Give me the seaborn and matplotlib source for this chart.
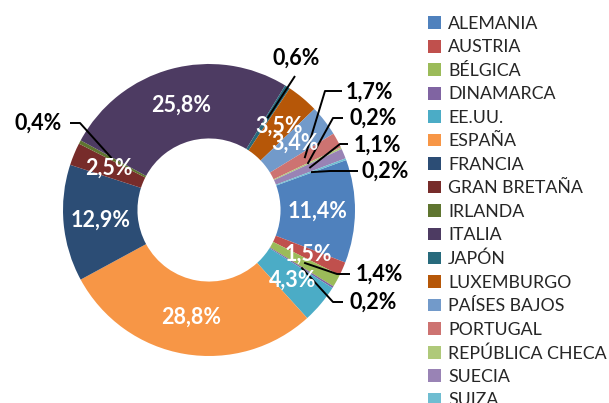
import matplotlib
matplotlib.use("Agg")
import numpy as np
import matplotlib.pyplot as plt
import seaborn as sns

# data
countries = [
    "ALEMANIA", "AUSTRIA", "BÉLGICA", "DINAMARCA", "EE.UU.", "ESPAÑA",
    "FRANCIA", "GRAN BRETAÑA", "IRLANDA", "ITALIA", "JAPÓN", "LUXEMBURGO",
    "PAÍSES BAJOS", "PORTUGAL", "REPÚBLICA CHECA", "SUECIA", "SUIZA",
]
shares = [11.4, 1.5, 1.4, 0.2, 4.3, 28.8, 12.9, 2.5, 0.4, 25.8, 0.6, 3.5,
          3.4, 1.7, 0.2, 1.1, 0.2]
colors = [
    "#4F81BD", "#C0504D", "#9BBB59", "#8064A2", "#4BACC6", "#F79646",
    "#2C4D75", "#772C2A", "#5F7530", "#4D3B62", "#276A7C", "#B65708",
    "#729ACA", "#CD7371", "#AFC97A", "#9983B5", "#6FBDD1",
]

# labels drawn outside with a leader line (index -> layout in ref pixels)
# (line start x, y), (knee x, y), text anchor (x, y), ha
outside = {
    2: ((350, 274), (337, 274), (356, 274), "left"),
    3: ((343, 302), (333, 302), (350, 302), "left"),
    8: ((70, 123), (80, 123), (62, 123), "right"),
    10: ((295, 76), (295, 76), (296, 58), "center"),
    13: ((342, 91), (325, 91), (346, 92), "left"),
    14: ((343, 118), (333, 118), (349, 118), "left"),
    15: ((348, 144), (340, 144), (354, 145), "left"),
    16: ((358, 171), (330, 171), (361, 171), "left"),
}

sns.set_style("white")
plt.rcParams["font.family"] = ["Lato", "DejaVu Sans"]

W, H = 609, 403
cx, cy, R = 209, 210, 146


def px(x, y):
    return (x - cx) / R, (cy - y) / R


fig = plt.figure(figsize=(W / 100, H / 100), dpi=100)
ax = fig.add_axes([0, 0, 1, 1])
wedges, _ = ax.pie(
    shares, colors=colors, startangle=20, counterclock=False, radius=1,
    wedgeprops=dict(width=0.51, linewidth=0),
)
ax.set_xlim(-cx / R, (W - cx) / R)
ax.set_ylim(-(H - cy) / R, cy / R)
ax.axis("off")

rmid = 1 - 0.51 / 2
for i, (w, v) in enumerate(zip(wedges, shares)):
    ang = np.deg2rad((w.theta1 + w.theta2) / 2)
    ax_, ay_ = rmid * np.cos(ang), rmid * np.sin(ang)
    txt = f"{v:.1f}%".replace(".", ",")
    if i in outside:
        start, knee, tpos, ha = outside[i]
        sx, sy = px(*start)
        kx, ky = px(*knee)
        ax.plot([sx, kx, ax_], [sy, ky, ay_], color="black", lw=1.4,
                clip_on=False, solid_capstyle="butt")
        tx, ty = px(*tpos)
        ax.text(tx, ty, txt, ha=ha, va="center", color="black",
                fontsize=15.5, fontweight="bold")
    else:
        ax.text(ax_, ay_, txt, ha="center", va="center", color="white",
                fontsize=15.5, fontweight="bold")

ax.legend(
    wedges, countries, loc="upper left",
    bbox_to_anchor=(428 / W, 1 - 16 / H), bbox_transform=fig.transFigure,
    frameon=False, fontsize=12.8, handlelength=0.72, handleheight=0.72,
    handletextpad=0.42, labelspacing=0.42, borderpad=0, borderaxespad=0,
)

fig.savefig("out.png", dpi=100)
